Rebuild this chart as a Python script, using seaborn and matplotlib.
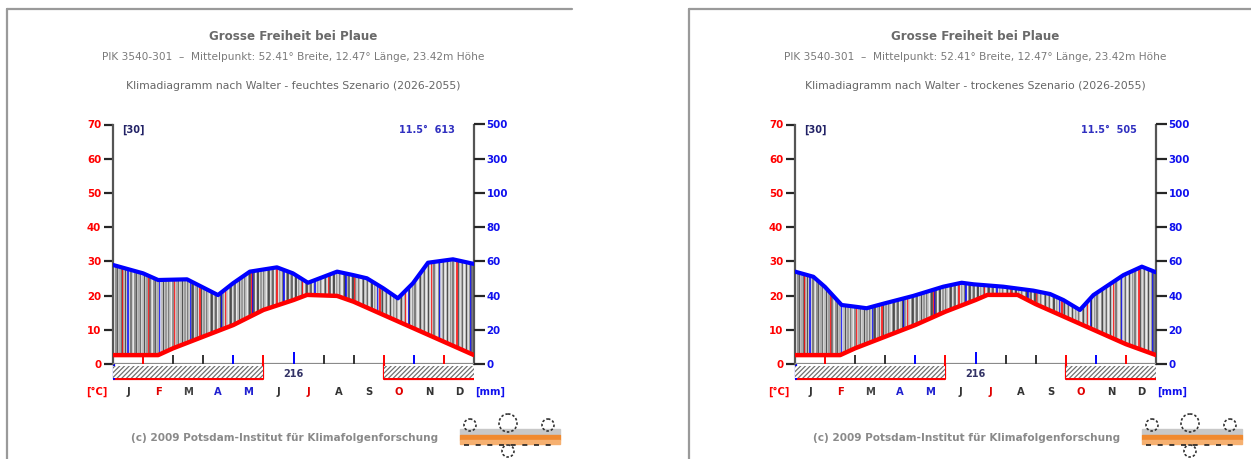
import numpy as np
import pandas as pd
import matplotlib
matplotlib.use("Agg")
import matplotlib.pyplot as plt
import seaborn as sns
from matplotlib.patches import Rectangle, Circle
from matplotlib.lines import Line2D

# ---------------- data ----------------
months = ["J", "F", "M", "A", "M", "J", "J", "A", "S", "O", "N", "D"]
month_colors = ["#333333", "#e00000", "#444444", "#2020d0", "#2020d0", "#333333",
                "#e00000", "#333333", "#333333", "#e00000", "#333333", "#333333"]
temp_tick_labels = ["0", "10", "20", "30", "40", "50", "60", "70"]
prec_tick_labels = ["0", "20", "40", "60", "80", "100", "300", "500"]

station = "Grosse Freiheit bei Plaue"
location = "PIK 3540-301  \u2013  Mittelpunkt: 52.41\u00b0 Breite, 12.47\u00b0 L\u00e4nge, 23.42m H\u00f6he"
scenarios = ["Klimadiagramm nach Walter - feuchtes Szenario (2026-2055)",
             "Klimadiagramm nach Walter - trockenes Szenario (2026-2055)"]
years_label = "[30]"
frost_free_days = "216"

# wet scenario (x in months from 1 Jan)
wet_temp_x = [0.0, 1.0, 1.5, 2.0, 3.0, 4.0, 5.0, 6.0, 6.45, 7.45, 8.0, 9.0, 10.0, 11.0, 12.0]
wet_temp = [2.6, 2.6, 2.6, 4.6, 8.0, 11.4, 15.8, 18.7, 20.2, 19.9, 18.2, 14.3, 10.4, 6.5, 2.6]
wet_prec_x = [0.0, 1.0, 1.5, 2.46, 3.49, 3.99, 4.55, 5.45, 5.98, 6.48, 7.45, 7.98,
              8.44, 8.98, 9.47, 9.97, 10.47, 11.3, 12.0]
wet_prec = [57.9, 53.0, 49.1, 49.5, 40.3, 47.2, 54.0, 56.5, 53.0, 47.5, 54.0, 52.0,
            50.1, 44.3, 38.4, 47.2, 59.2, 61.2, 58.5]
wet_tmean, wet_psum = "11.5\u00b0", "613"

# dry scenario
dry_temp_x = [0.0, 1.0, 1.5, 2.0, 3.0, 4.0, 5.0, 6.0, 6.4, 7.4, 8.0, 9.0, 10.0, 11.0, 12.0]
dry_temp = [2.6, 2.6, 2.6, 4.6, 8.0, 11.4, 15.3, 18.7, 20.2, 20.2, 17.5, 13.6, 9.7, 5.8, 2.6]
dry_prec_x = [0.0, 0.61, 1.0, 1.55, 2.0, 2.38, 2.99, 3.93, 4.93, 5.54, 5.93, 6.92, 7.92,
              8.48, 8.92, 9.47, 9.92, 10.92, 11.53, 12.0]
dry_prec = [54.0, 51.0, 45.0, 34.5, 33.5, 32.6, 35.5, 39.8, 45.2, 47.5, 46.6, 45.2, 42.9,
            40.9, 37.4, 31.6, 40.3, 52.0, 56.9, 53.6]
dry_tmean, dry_psum = "11.5\u00b0", "505"

# ---------------- style ----------------
sns.set_style("white")
plt.rcParams["font.family"] = ["DejaVu Sans"]
plt.rcParams["hatch.linewidth"] = 0.9

W, H = 1251, 459
fig = plt.figure(figsize=(W / 100, H / 100), dpi=100)
fig.patch.set_facecolor("white")

def fx(px):
    return px / W

def fy(py):
    return 1 - py / H

def prec_to_t(p):
    p = np.asarray(p, dtype=float)
    return np.where(p <= 100, p / 2.0, 50 + (p - 100) / 20.0)

stripe_greys = ["#c8c8c8", "#f0f0f0", "#7a7a7a", "#3a3a3a", "#dcdcdc", "#a0a0a0",
                "#555555", "#f4f4f4", "#b4b4b4", "#2e2e2e", "#e2e2e2", "#8c8c8c",
                "#cfcfcf", "#666666"]

def draw_panel(ox, tx, tv, px_, pv, scen, tmean, psum):
    # frame lines of the panel
    fig.add_artist(Line2D([fx(ox - 106), fx(ox + 459 if ox < 600 else W)], [fy(9), fy(9)],
                          color="#9a9a9a", lw=1.6))
    fig.add_artist(Line2D([fx(ox - 106), fx(ox - 106)], [fy(9), fy(H)],
                          color="#9a9a9a", lw=1.6))

    cx = ox + 180
    fig.text(fx(cx), fy(37), station, ha="center", va="center", fontsize=8.6,
             fontweight="bold", color="#6a6a6a")
    fig.text(fx(cx), fy(57), location, ha="center", va="center", fontsize=7.6,
             color="#7a7a7a")
    fig.text(fx(cx), fy(86), scen, ha="center", va="center", fontsize=7.8,
             color="#666666")
    fig.text(fx(cx - 8), fy(438), "(c) 2009 Potsdam-Institut f\u00fcr Klimafolgenforschung",
             ha="center", va="center", fontsize=7.6, fontweight="bold", color="#8a8a8a")

    ax = fig.add_axes([fx(ox), fy(364), fx(361), (364 - 124.5) / H])
    ax.set_xlim(0, 12)
    ax.set_ylim(0, 70)
    ax.patch.set_alpha(0)

    t_df = pd.DataFrame({"month": tx, "value": tv})
    p_df = pd.DataFrame({"month": px_, "value": prec_to_t(pv)})

    # humid-period stripes between curves
    xs = np.arange(0.02, 12.0, 0.045)
    lo = np.interp(xs, tx, tv)
    hi = np.interp(xs, px_, prec_to_t(pv))
    ax.fill_between(xs, lo, hi, color="#d0d0d0", lw=0, zorder=1)
    cols = []
    for i in range(len(xs)):
        if i % 19 == 7:
            cols.append("#ff0000")
        elif i % 23 == 11:
            cols.append("#0000ff")
        else:
            cols.append(stripe_greys[i % len(stripe_greys)])
    ax.vlines(xs, lo, hi, colors=cols, lw=1.1, zorder=2)

    sns.lineplot(data=t_df, x="month", y="value", ax=ax, color="#ff0000",
                 linewidth=3.2, errorbar=None, zorder=4)
    sns.lineplot(data=p_df, x="month", y="value", ax=ax, color="#0000ff",
                 linewidth=3.0, errorbar=None, zorder=5)
    ax.set_xlabel("")
    ax.set_ylabel("")

    # axes/spines
    for s in ["top", "bottom"]:
        ax.spines[s].set_visible(False)
    for s in ["left", "right"]:
        ax.spines[s].set_color("#555555")
        ax.spines[s].set_linewidth(1.6)
    ax.axhline(0, color="#8a8a8a", lw=1.6, zorder=3)
    ax.set_xticks([])
    ax.set_yticks(range(0, 71, 10))
    ax.set_yticklabels(temp_tick_labels, color="#ff0000", fontsize=7.4, fontweight="bold")
    ax.tick_params(axis="y", length=6.5, width=1.6, pad=2, left=True, right=False)
    left_tick_cols = ["#555555", "#ff0000", "#ff0000", "#555555", "#555555", "#ff0000",
                      "#555555", "#0000ff"]
    for t, c in zip(ax.yaxis.get_major_ticks(), left_tick_cols):
        t.tick1line.set_color(c)

    ax2 = ax.twinx()
    ax2.set_ylim(0, 70)
    ax2.set_yticks(range(0, 71, 10))
    ax2.set_yticklabels(prec_tick_labels, color="#1010ee", fontsize=7.4, fontweight="bold")
    ax2.tick_params(axis="y", length=8, width=1.6, pad=1)
    for s in ax2.spines.values():
        s.set_visible(False)
    right_tick_cols = ["#555555", "#ff0000", "#ff0000", "#555555", "#555555", "#ff0000",
                       "#555555", "#0000ff"]
    for t, c in zip(ax2.yaxis.get_major_ticks(), right_tick_cols):
        t.tick2line.set_color(c)

    # month marks above baseline
    mark_cols = ["#ff0000", "#333333", "#333333", "#0000ff", "#ff0000", "#0000ff",
                 "#333333", "#333333", "#ff0000", "#0000ff", "#ff0000"]
    for m, c in zip(range(1, 12), mark_cols):
        top = 3.6 if m == 6 else 2.7
        ax.vlines(m, 0, top, colors=c, lw=1.4, zorder=6)

    # frost bars
    for x0, x1 in [(0, 5), (9, 12)]:
        r = Rectangle((x0, -4.1), x1 - x0, 3.5, facecolor="white", edgecolor="#707070",
                      hatch="///////", lw=0, clip_on=False, zorder=3)
        ax.add_patch(r)
        ax.plot([x0, x1], [-4.45, -4.45], color="#ff0000", lw=1.6, clip_on=False,
                solid_capstyle="butt")
    ax.plot([5, 5], [-4.45, 0], color="#ff0000", lw=1.6, clip_on=False)
    ax.plot([9, 9], [-4.45, 0], color="#ff0000", lw=1.6, clip_on=False)
    ax.plot([0.03, 0.03], [-4.45, 0], color="#0000ff", lw=1.6, clip_on=False)
    ax.text(6.0, -2.9, frost_free_days, ha="center", va="center", fontsize=7,
            fontweight="bold", color="#333366")

    for i, (m, c) in enumerate(zip(months, month_colors)):
        ax.text(i + 0.5, -8.2, m, ha="center", va="center", fontsize=7.2,
                fontweight="bold", color=c)
    ax.text(-0.55, -8.2, "[\u00b0C]", ha="center", va="center", fontsize=7.2,
            fontweight="bold", color="#ff0000")
    ax.text(12.55, -8.2, "[mm]", ha="center", va="center", fontsize=7.2,
            fontweight="bold", color="#1010ee")

    ax.text(0.3, 68.3, years_label, ha="left", va="center", fontsize=7,
            fontweight="bold", color="#222266")
    ax.text(11.35, 68.3, tmean + "  " + psum, ha="right", va="center", fontsize=7,
            fontweight="bold", color="#3030c0")

    # simplified institute logo
    lg = fig.add_axes([fx(ox + 343), fy(459), fx(108), 48 / H])
    lg.set_xlim(0, 108)
    lg.set_ylim(48, 0)
    lg.axis("off")
    lg.add_patch(Rectangle((4, 18), 100, 6, color="#c8c8c8"))
    lg.add_patch(Rectangle((4, 24), 100, 5, color="#f08a30"))
    lg.add_patch(Rectangle((4, 29), 100, 4, color="#f6b070"))
    for cx_, cy_, rr in [(14, 14, 6), (52, 12, 9), (92, 14, 6), (52, 40, 6)]:
        lg.add_patch(Circle((cx_, cy_), rr, fill=False, ec="#333333", lw=1.2,
                            ls=(0, (1.5, 1.2))))
    lg.plot([8, 100], [33.5, 33.5], color="#222222", lw=1.2, ls=(0, (3, 4)))

draw_panel(113, wet_temp_x, wet_temp, wet_prec_x, wet_prec, scenarios[0], wet_tmean, wet_psum)
draw_panel(795, dry_temp_x, dry_temp, dry_prec_x, dry_prec, scenarios[1], dry_tmean, dry_psum)

fig.savefig("out.png", dpi=100, facecolor="white")
